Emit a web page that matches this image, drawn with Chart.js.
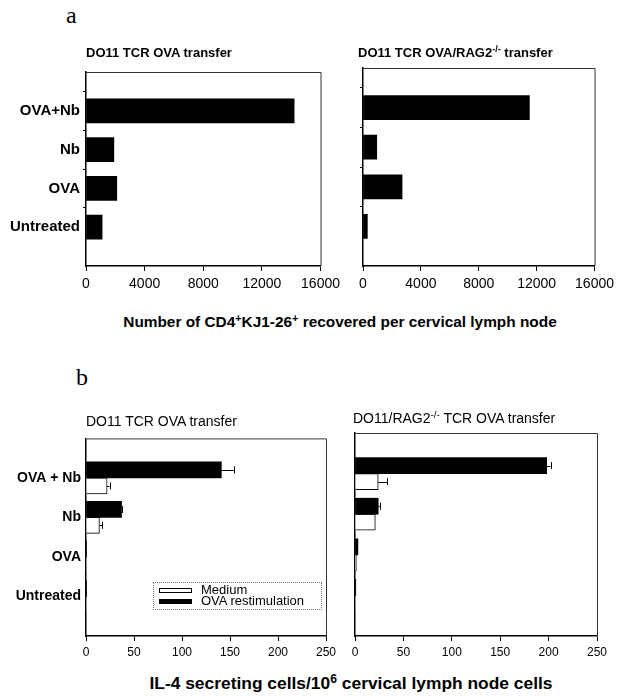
<!DOCTYPE html>
<html>
<head>
<meta charset="utf-8">
<script src="https://cdn.jsdelivr.net/npm/chart.js@4/dist/chart.umd.min.js"></script>
<style>
  html,body{margin:0;padding:0;background:#fff;}
  #page{position:relative;width:619px;height:696px;overflow:hidden;background:#fff;font-family:"Liberation Sans",Arial,sans-serif;color:#000;}
  canvas{position:absolute;}
  .t{position:absolute;white-space:nowrap;z-index:5;}
  .sup{font-size:70%;position:relative;top:-0.5em;line-height:0;}
  .panel{font-family:"Liberation Serif",serif;font-size:24px;line-height:30px;}
  #legend{position:absolute;left:153px;top:582px;width:169px;height:28px;border:1px dotted #777;box-sizing:border-box;z-index:5;font-size:13px;white-space:nowrap;}
  #legend .row{position:absolute;left:5px;height:12px;line-height:12px;width:160px;}
  #legend .sw{position:absolute;left:0;top:3px;width:33px;height:5px;box-sizing:border-box;border:1px solid #000;}
  #legend .lab{position:absolute;left:42px;top:-1px;white-space:nowrap;}
</style>
</head>
<body>
<div id="page">
  <div class="t panel" style="left:66px;top:0px;">a</div>
  <div class="t panel" style="left:76px;top:362px;">b</div>

  <div class="t" style="left:86px;top:45px;font-size:13px;line-height:16px;font-weight:bold;">DO11 TCR OVA transfer</div>
  <div class="t" style="left:358px;top:45px;font-size:13px;line-height:16px;font-weight:bold;">DO11 TCR OVA/RAG2<span class="sup">-/-</span> transfer</div>

  <div class="t" style="left:0;width:680px;top:313px;text-align:center;font-size:15.4px;line-height:18px;font-weight:bold;">Number of CD4<span class="sup">+</span>KJ1-26<span class="sup">+</span> recovered per cervical lymph node</div>

  <div class="t" style="left:86px;top:413px;font-size:14px;line-height:16px;">DO11 TCR OVA transfer</div>
  <div class="t" style="left:353px;top:410px;font-size:14px;line-height:16px;">DO11/RAG2<span class="sup">-/-</span> TCR OVA transfer</div>

  <div class="t" style="left:0;width:702px;top:673px;text-align:center;font-size:17.4px;line-height:20px;font-weight:bold;">IL-4 secreting cells/10<span class="sup">6</span> cervical lymph node cells</div>

  <div id="legend">
    <div class="row" style="top:2px;"><div class="sw" style="background:#fff;"></div><div class="lab">Medium</div></div>
    <div class="row" style="top:13px;"><div class="sw" style="background:#000;"></div><div class="lab">OVA restimulation</div></div>
  </div>

  <canvas id="c1" width="345" height="240" style="left:0;top:60px;"></canvas>
  <canvas id="c2" width="279" height="240" style="left:340px;top:60px;"></canvas>
  <canvas id="c3" width="345" height="240" style="left:0;top:425px;"></canvas>
  <canvas id="c4" width="284" height="240" style="left:335px;top:425px;"></canvas>
</div>
<script>
// ---- data ----
const categoriesA = ['OVA+Nb', 'Nb', 'OVA', 'Untreated'];
const categoriesB = ['OVA + Nb', 'Nb', 'OVA', 'Untreated'];
const ticksA = [0, 4000, 8000, 12000, 16000];
const ticksB = [0, 50, 100, 150, 200, 250];

const cellsDO11 = [14200, 1900, 2100, 1100];
const cellsRAG = [11500, 950, 2700, 300];

const do11Ova = [141, 37, 0.6, 0.4];
const do11OvaErr = [13, 1, 0, 0];
const do11Medium = [22, 14, 0.4, 0.3];
const do11MediumErr = [2.5, 3, 0, 0];

const ragOva = [198, 24, 3, 0.8];
const ragOvaErr = [4, 1.5, 0, 0];
const ragMedium = [24, 21, 1.5, 0.7];
const ragMediumErr = [9, 0, 0, 0];

// ---- helpers ----
const pad = arr => [null, ...arr, null];
const padL = arr => ['', ...arr, ''];
const FONT = '"Liberation Sans", Arial, sans-serif';

const boxPlugin = {
  id: 'box',
  afterDraw(chart) {
    const {ctx, chartArea: a} = chart;
    ctx.save();
    ctx.strokeStyle = '#333';
    ctx.lineWidth = 1;
    ctx.beginPath();
    ctx.moveTo(a.left, a.top + 0.5);
    ctx.lineTo(a.right + 0.5, a.top + 0.5);
    ctx.lineTo(a.right + 0.5, a.bottom);
    ctx.stroke();
    ctx.restore();
  }
};

const errPlugin = {
  id: 'errbars',
  afterDatasetsDraw(chart) {
    const {ctx} = chart;
    const xs = chart.scales.x;
    chart.data.datasets.forEach((ds, di) => {
      if (!ds.errors) return;
      const meta = chart.getDatasetMeta(di);
      meta.data.forEach((bar, i) => {
        const v = ds.data[i], e = ds.errors[i];
        if (v == null || !e) return;
        const x0 = xs.getPixelForValue(v);
        const x1 = xs.getPixelForValue(v + e);
        const y = bar.y;
        ctx.save();
        ctx.strokeStyle = '#000';
        ctx.lineWidth = 1;
        ctx.beginPath();
        ctx.moveTo(x0, Math.round(y) + 0.5);
        ctx.lineTo(x1, Math.round(y) + 0.5);
        ctx.moveTo(Math.round(x1) + 0.5, y - 3.5);
        ctx.lineTo(Math.round(x1) + 0.5, y + 3.5);
        ctx.stroke();
        ctx.restore();
      });
    });
  }
};

function makeChart(id, labels, datasets, cfg) {
  return new Chart(document.getElementById(id), {
    type: 'bar',
    data: {labels: padL(labels), datasets},
    options: {
      indexAxis: 'y',
      responsive: false,
      animation: false,
      layout: {padding: {left: 0, top: cfg.top, right: cfg.right, bottom: 0}},
      plugins: {legend: {display: false}, tooltip: {enabled: false}},
      scales: {
        x: {
          type: 'linear',
          min: 0,
          max: cfg.max,
          afterBuildTicks: s => { s.ticks = cfg.ticks.map(v => ({value: v})); },
          afterFit: s => { s.height = cfg.xh; },
          border: {display: true, color: '#000', width: 1.5},
          grid: {display: true, drawOnChartArea: false, drawTicks: true, tickLength: 5, color: '#000'},
          ticks: {color: '#000', padding: cfg.xpad, maxRotation: 0, autoSkip: false,
                  callback: v => String(v),
                  font: {family: FONT, size: cfg.xfont}}
        },
        y: {
          type: 'category',
          offset: false,
          afterFit: s => { s.width = cfg.yw; },
          border: {display: true, color: '#000', width: 1.5},
          grid: {display: true, drawOnChartArea: false, drawTicks: cfg.yticks, tickLength: 3,
                 color: c => (c.index === 0 || c.index === 5) ? 'rgba(0,0,0,0)' : '#000'},
          ticks: {display: cfg.ylabels, color: '#000', padding: cfg.ypad, autoSkip: false,
                  font: {family: FONT, size: cfg.yfont, weight: 'bold'}}
        }
      }
    },
    plugins: [boxPlugin, errPlugin]
  });
}

// Panel a
makeChart('c1', categoriesA, [
  {data: pad(cellsDO11), backgroundColor: '#000', borderWidth: 0, barThickness: 24}
], {top: 8, right: 23, xh: 34, yw: 86, max: 16000, ticks: ticksA, xfont: 14, xpad: 5,
    yfont: 15, ypad: 3, yticks: true, ylabels: true});

makeChart('c2', categoriesA, [
  {data: pad(cellsRAG), backgroundColor: '#000', borderWidth: 0, barThickness: 24}
], {top: 8, right: 19, xh: 34, yw: 23, max: 16000, ticks: ticksA, xfont: 14, xpad: 5,
    yfont: 15, ypad: 3, yticks: true, ylabels: false});

// Panel b
makeChart('c3', categoriesB, [
  {label: 'OVA restimulation', data: pad(do11Ova), errors: pad(do11OvaErr), backgroundColor: '#000', borderWidth: 0, barThickness: 16},
  {label: 'Medium', data: pad(do11Medium), errors: pad(do11MediumErr), backgroundColor: '#fff', borderColor: '#000', borderWidth: 1, barThickness: 16}
], {top: 7, right: 19, xh: 29, yw: 86, max: 250, ticks: ticksB, xfont: 12, xpad: 4,
    yfont: 14, ypad: 5, yticks: false, ylabels: true});

makeChart('c4', categoriesB, [
  {label: 'OVA restimulation', data: pad(ragOva), errors: pad(ragOvaErr), backgroundColor: '#000', borderWidth: 0, barThickness: 16},
  {label: 'Medium', data: pad(ragMedium), errors: pad(ragMediumErr), backgroundColor: '#fff', borderColor: '#000', borderWidth: 1, barThickness: 16}
], {top: 8, right: 22, xh: 29, yw: 20, max: 250, ticks: ticksB, xfont: 12, xpad: 4,
    yfont: 14, ypad: 5, yticks: false, ylabels: false});
</script>
</body>
</html>
